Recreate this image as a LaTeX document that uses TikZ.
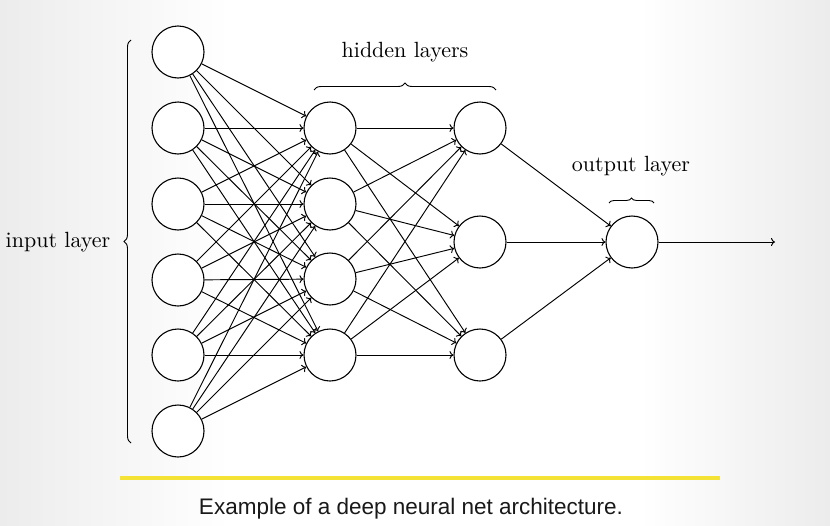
\documentclass[tikz,border=0pt]{standalone}
\usepackage{fontspec}
\newfontfamily\capfont{Liberation Sans}
\usetikzlibrary{decorations.pathreplacing,arrows.meta}
\definecolor{yellowbar}{RGB}{244,226,52}
\definecolor{edgegray}{RGB}{236,236,236}
\begin{document}
\begin{tikzpicture}[x=1pt,y=-1pt,
  neuron/.style={circle,draw,line width=1.1pt,minimum size=52pt,inner sep=0pt,fill=white},
  conn/.style={-{To[length=4pt,width=8pt]},line width=0.95pt},
  lbl/.style={scale=2.2,inner sep=0pt},
  brc/.style={decorate,decoration={brace,amplitude=7pt},line width=0.9pt}]
\useasboundingbox (0,0) rectangle (830,525);
\fill[white] (0,0) rectangle (830,525);
\shade[left color=edgegray,right color=white] (0,0) rectangle (230,525);
\shade[left color=white,right color=edgegray] (640,0) rectangle (830,525);
% neurons
\foreach \i/\y in {1/52,2/128,3/204,4/280,5/355,6/431}
  \node[neuron] (I\i) at (178,\y) {};
\foreach \i/\y in {1/128,2/204,3/279,4/355}
  \node[neuron] (H\i) at (330,\y) {};
\foreach \i/\y in {1/128,2/242,3/355}
  \node[neuron] (G\i) at (480,\y) {};
\node[neuron] (O) at (632,242) {};
\coordinate (out) at (775,242);
% connections
\foreach \i in {1,...,6}
  \foreach \j in {1,...,4}
    \draw[conn] (I\i) -- (H\j);
\foreach \i in {1,...,4}
  \foreach \j in {1,...,3}
    \draw[conn] (H\i) -- (G\j);
\foreach \i in {1,...,3}
  \draw[conn] (G\i) -- (O);
\draw[conn] (O) -- (out);
% braces and labels
\coordinate (ib1) at (131,443);
\coordinate (ib2) at (131,40);
\draw[brc] (ib1) -- (ib2);
\node[lbl] (il) at (58,242) {input layer};
\coordinate (hb1) at (314,90);
\coordinate (hb2) at (496,90);
\draw[brc] (hb1) -- (hb2);
\node[lbl] (hl) at (405,52) {hidden layers};
\coordinate (ob1) at (609,203);
\coordinate (ob2) at (654,203);
\draw[brc,decoration={brace,amplitude=5pt}] (ob1) -- (ob2);
\node[lbl] (ol) at (631,166) {output layer};
% caption
\coordinate (y1) at (120,478);
\coordinate (y2) at (720,478);
\draw[draw=yellowbar,line width=4.5pt] (y1) -- (y2);
\node[font=\capfont\fontsize{22.5}{27}\selectfont,text=black!90] (cap) at (411,509) {Example of a deep neural net architecture.};
\end{tikzpicture}
\end{document}
